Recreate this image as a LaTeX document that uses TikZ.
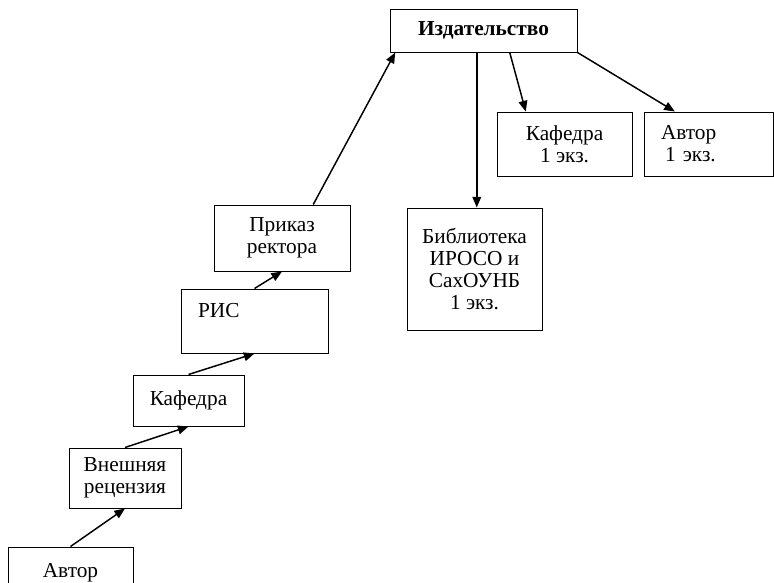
\documentclass[tikz,border=0pt]{standalone}
\usepackage{fontspec}
\setmainfont{Liberation Serif}
\usetikzlibrary{arrows.meta}

\begin{document}
\begin{tikzpicture}[x=0.75pt,y=-0.75pt,
    box/.style={draw,line width=0.75pt,inner sep=0pt,align=center,
      font=\fontsize{16pt}{16.4pt}\selectfont},
    boxsize/.style 2 args={minimum width=#1,minimum height=#2},
    arr/.style={line width=1.1pt,-{Triangle[length=8pt,width=6.5pt]}}]
    \providecommand{\boxfont}{\fontsize{16pt}{16.4pt}\selectfont}
    \useasboundingbox (0,0) rectangle (774,582);
    % the way up to the publisher
    \node[box,boxsize={93.75pt}{39pt}] (avtor) at (70.5,573) {Автор};
    \node[box,boxsize={84pt}{45pt}] (recenz) at (125,478) {Внешняя\\рецензия};
    \node[box,boxsize={83.25pt}{38.25pt}] (kafedra) at (188.5,400.5) {Кафедра};
    \node[box,boxsize={110.25pt}{48pt},align=left,text width=84.75pt] (ris) at (254.5,321) {РИС\\~};
    \node[box,boxsize={102pt}{49.5pt}] (prikaz) at (282,238) {Приказ\\ректора};
    \node[box,boxsize={140.25pt}{32.25pt},font=\boxfont\bfseries] (izd) at (483.5,30.5) {Издательство};
    % where the copies go
    \node[box,boxsize={101.25pt}{91.5pt}] (bibl) at (474.5,269) {Библиотека\\ИРОСО и\\СахОУНБ\\1 экз.};
    \node[box,boxsize={101.25pt}{48pt}] (kafcopy) at (564.5,144) {Кафедра\\1 экз.};
    \node[box,boxsize={96.75pt}{48pt},align=left,text width=71.25pt] (avtcopy) at (708.5,144) {Автор\\\hspace*{3pt}1 экз.};
    \draw[arr] (avtor.north) -- (recenz.south);
    \draw[arr] (recenz.north) -- (kafedra.south);
    \draw[arr] (kafedra.north) -- (ris.south);
    \draw[arr] (ris.north) -- (prikaz.south);
    \draw[arr] (prikaz.47) -- (izd.194);
    \draw[arr] (izd.253) -- (izd.253 |- bibl.north);
    \draw[arr] (izd.320) -- (kafcopy.140);
    \draw[arr] (izd.south east) -- (avtcopy.136);
\end{tikzpicture}
\end{document}
